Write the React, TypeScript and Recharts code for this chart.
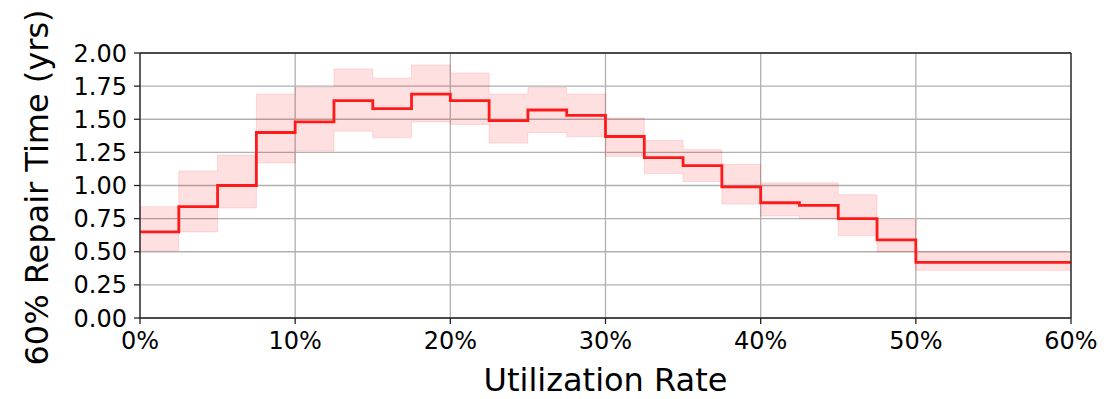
import {
  ComposedChart,
  Area,
  Line,
  XAxis,
  YAxis,
  CartesianGrid,
  ReferenceLine,
} from "recharts";

// utilization bin starts (last point closes the final bin at 60%)
const binStart = [
  0, 0.025, 0.05, 0.075, 0.1, 0.125, 0.15, 0.175, 0.2, 0.225, 0.25,
  0.275, 0.3, 0.325, 0.35, 0.375, 0.4, 0.425, 0.45, 0.475, 0.5, 0.6,
];
const repairTime = [
  0.65, 0.84, 1.0, 1.4, 1.48, 1.64, 1.58, 1.69, 1.64, 1.49, 1.57,
  1.53, 1.37, 1.21, 1.15, 0.99, 0.87, 0.85, 0.75, 0.59, 0.42, 0.42,
];
const lowerBound = [
  0.51, 0.65, 0.83, 1.17, 1.26, 1.41, 1.36, 1.48, 1.46, 1.32, 1.4,
  1.37, 1.22, 1.09, 1.03, 0.86, 0.77, 0.75, 0.62, 0.5, 0.36, 0.36,
];
const upperBound = [
  0.84, 1.11, 1.23, 1.69, 1.74, 1.88, 1.81, 1.91, 1.85, 1.69, 1.74,
  1.69, 1.51, 1.34, 1.27, 1.16, 1.02, 1.02, 0.93, 0.74, 0.5, 0.5,
];
const xTicks = [0, 0.1, 0.2, 0.3, 0.4, 0.5, 0.6];
const yTicks = [0, 0.25, 0.5, 0.75, 1, 1.25, 1.5, 1.75, 2];

const data = binStart.map((x, i) => ({
  x,
  y: repairTime[i],
  band: [lowerBound[i], upperBound[i]],
}));

const FONT = "'DejaVu Sans', sans-serif";

const YLabel = (props: any) => {
  const { y, height } = props.viewBox;
  const cy = y + height / 2 + 2;
  return (
    <text
      x={37}
      y={cy}
      transform={`rotate(-90, 37, ${cy})`}
      textAnchor="middle"
      dominantBaseline="central"
      fontSize={32}
      fontFamily={FONT}
      fill="#000"
    >
      60% Repair Time (yrs)
    </text>
  );
};

const XLabel = (props: any) => {
  const { x, width } = props.viewBox;
  return (
    <text
      x={x + width / 2}
      y={391}
      textAnchor="middle"
      fontSize={32}
      fontFamily={FONT}
      fill="#000"
    >
      Utilization Rate
    </text>
  );
};

export default function App() {
  return (
    <div style={{ position: "absolute", left: 0, top: 0 }}>
      <ComposedChart
        width={1114}
        height={399}
        data={data}
        margin={{ top: 53, right: 43, bottom: 0, left: 0 }}
      >
        <CartesianGrid stroke="#b0b0b0" strokeWidth={1.3} />
        <XAxis
          dataKey="x"
          type="number"
          domain={[0, 0.6]}
          ticks={xTicks}
          tickFormatter={(v: number) => `${Math.round(v * 100)}%`}
          height={81}
          tickSize={6}
          tickMargin={8}
          stroke="#222"
          strokeWidth={1.3}
          tick={{ fill: "#000", fontSize: 24, fontFamily: FONT }}
          label={XLabel}
        />
        <YAxis
          type="number"
          domain={[0, 2]}
          ticks={yTicks}
          tickFormatter={(v: number) => v.toFixed(2)}
          width={140}
          tickSize={6}
          tickMargin={7}
          stroke="#222"
          strokeWidth={1.3}
          tick={{ fill: "#000", fontSize: 24, fontFamily: FONT }}
          label={YLabel}
        />
        <Area
          dataKey="band"
          type="stepAfter"
          fill="#ff0000"
          fillOpacity={0.12}
          stroke="#ff0000"
          strokeOpacity={0.12}
          strokeWidth={1}
          isAnimationActive={false}
        />
        <Line
          dataKey="y"
          type="stepAfter"
          stroke="#ff1a1a"
          strokeWidth={2.8}
          dot={false}
          isAnimationActive={false}
        />
        <ReferenceLine y={2} stroke="#222" strokeWidth={1.3} />
        <ReferenceLine x={0.6} stroke="#222" strokeWidth={1.3} />
      </ComposedChart>
    </div>
  );
}
